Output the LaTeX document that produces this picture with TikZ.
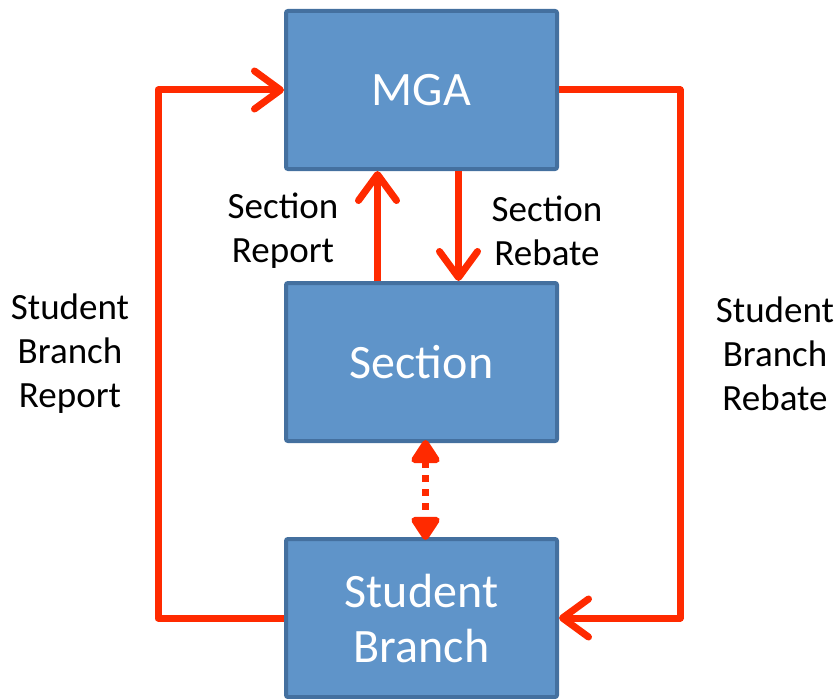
\documentclass[tikz,border=0pt]{standalone}
\usepackage{fontspec}
\setmainfont{Carlito}
\usepackage{tikz}
\usetikzlibrary{arrows.meta}
\definecolor{boxblue}{HTML}{5F94C9}
\definecolor{boxedge}{HTML}{44709F}
\definecolor{flowred}{HTML}{FF2A00}
\tikzset{
	unitbox/.style={draw=boxedge, fill=boxblue, line width=4pt, rounded corners=2pt,
		minimum width=271pt, minimum height=158pt, text=white, align=center,
		text depth=-10pt, font=\fontsize{48}{55}\selectfont},
	flow/.style={draw=flowred, line width=7pt, line join=round,
		-{Straight Barb[round, length=26pt, width=38pt]}},
	sideflow/.style={flowred, line width=7pt, dash pattern=on 7pt off 7pt,
		{Triangle[round, length=26pt, width=32pt]}-{Triangle[round, length=26pt, width=32pt]}},
	flowlabel/.style={align=center, font=\fontsize{37}{44}\selectfont}
}
\begin{document}
\begin{tikzpicture}[x=1pt, y=-1pt]
\useasboundingbox (0,0) rectangle (837,698);

\node[unitbox] (mga) at (421.5,90) {MGA};
\node[unitbox] (sec) at (421.5,362) {Section};
\node[unitbox] (sb) at (421.5,618) {Student\\Branch};

\coordinate (lcorner) at (158,618);
\coordinate (rcorner) at (680,90);

\draw[flow] (sb.west) -- (lcorner) |- (mga.west);
\draw[flow] (mga.east) -- (rcorner) |- (sb.east);
\draw[flow] ([xshift=-44pt]sec.north) -- ([xshift=-44pt]mga.south);
\draw[flow] ([xshift=37pt]mga.south) -- ([xshift=37pt]sec.north);
\draw[sideflow] ([xshift=4pt,yshift=3pt]sec.south) -- ([xshift=4pt,yshift=-3pt]sb.north);

\node[flowlabel] (secrep) at (283,231) {Section\\Report};
\node[flowlabel] (secreb) at (547,231) {Section\\Rebate};
\node[flowlabel] (sbrep) at (70,354) {Student\\Branch\\Report};
\node[flowlabel] (sbreb) at (775,354) {Student\\Branch\\Rebate};
\end{tikzpicture}
\end{document}
